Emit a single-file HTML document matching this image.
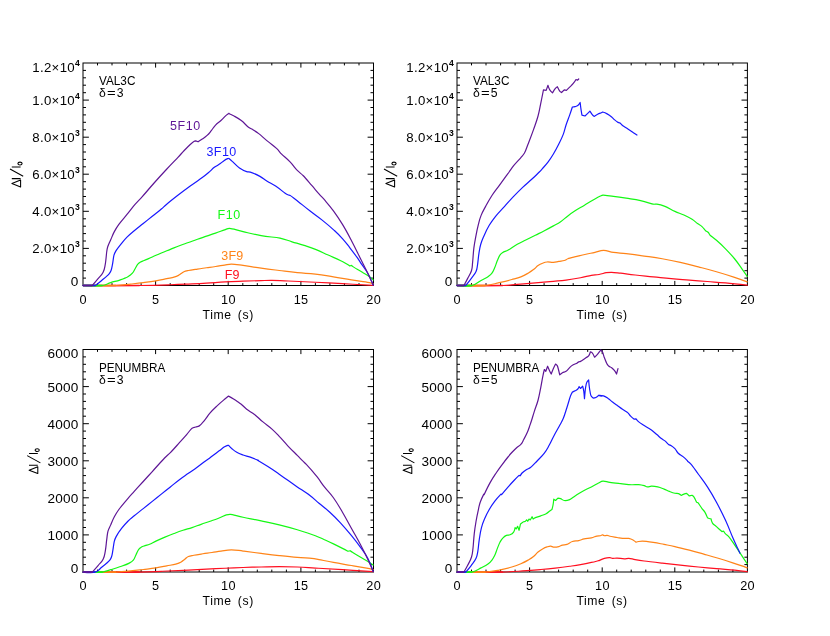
<!DOCTYPE html>
<html><head><meta charset="utf-8"><title>chart</title>
<style>
html,body{margin:0;padding:0;background:#fff;}
body{width:830px;height:636px;overflow:hidden;}
svg{display:block;will-change:transform;}
text{font-family:"Liberation Sans",sans-serif;fill:#000;}
</style></head><body>
<svg width="830" height="636" viewBox="0 0 830 636">
<rect width="830" height="636" fill="#fff"/>
<g>
<path d="M97.5 285.5v-2.4M97.5 63v2.4M112 285.5v-2.4M112 63v2.4M126.6 285.5v-2.4M126.6 63v2.4M141.1 285.5v-2.4M141.1 63v2.4M155.6 285.5v-4.6M155.6 63v4.6M170.2 285.5v-2.4M170.2 63v2.4M184.7 285.5v-2.4M184.7 63v2.4M199.2 285.5v-2.4M199.2 63v2.4M213.7 285.5v-2.4M213.7 63v2.4M228.2 285.5v-4.6M228.2 63v4.6M242.8 285.5v-2.4M242.8 63v2.4M257.3 285.5v-2.4M257.3 63v2.4M271.8 285.5v-2.4M271.8 63v2.4M286.4 285.5v-2.4M286.4 63v2.4M300.9 285.5v-4.6M300.9 63v4.6M315.4 285.5v-2.4M315.4 63v2.4M329.9 285.5v-2.4M329.9 63v2.4M344.4 285.5v-2.4M344.4 63v2.4M359 285.5v-2.4M359 63v2.4M83 278.1h3.0M373.5 278.1h-3.0M83 270.7h3.0M373.5 270.7h-3.0M83 263.2h3.0M373.5 263.2h-3.0M83 255.8h3.0M373.5 255.8h-3.0M83 248.4h5.9M373.5 248.4h-5.9M83 241h3.0M373.5 241h-3.0M83 233.6h3.0M373.5 233.6h-3.0M83 226.2h3.0M373.5 226.2h-3.0M83 218.8h3.0M373.5 218.8h-3.0M83 211.3h5.9M373.5 211.3h-5.9M83 203.9h3.0M373.5 203.9h-3.0M83 196.5h3.0M373.5 196.5h-3.0M83 189.1h3.0M373.5 189.1h-3.0M83 181.7h3.0M373.5 181.7h-3.0M83 174.2h5.9M373.5 174.2h-5.9M83 166.8h3.0M373.5 166.8h-3.0M83 159.4h3.0M373.5 159.4h-3.0M83 152h3.0M373.5 152h-3.0M83 144.6h3.0M373.5 144.6h-3.0M83 137.2h5.9M373.5 137.2h-5.9M83 129.8h3.0M373.5 129.8h-3.0M83 122.3h3.0M373.5 122.3h-3.0M83 114.9h3.0M373.5 114.9h-3.0M83 107.5h3.0M373.5 107.5h-3.0M83 100.1h5.9M373.5 100.1h-5.9M83 92.7h3.0M373.5 92.7h-3.0M83 85.2h3.0M373.5 85.2h-3.0M83 77.8h3.0M373.5 77.8h-3.0M83 70.4h3.0M373.5 70.4h-3.0" stroke="#000" stroke-width="1.0" fill="none"/>
<rect x="83" y="63" width="290.5" height="222.5" fill="none" stroke="#000" stroke-width="1.0"/>
<path d="M82.89 285.49C82.89 285.49 126.12 285.65 139.64 285.49C153.16 285.33 162.41 285.02 170.36 284.77C178.32 284.52 180.48 284.41 188.43 284.05C196.38 283.69 198.56 283.62 206.51 283.14C214.45 282.67 217.05 282.31 225 281.88C232.95 281.45 235.12 281.43 243.07 281.16C251.02 280.88 256.37 280.73 261.14 280.61C265.92 280.5 267.22 280.39 271.99 280.43C276.76 280.47 281.1 280.69 288.25 280.98C295.41 281.26 303.44 281.64 315.36 282.24C327.29 282.84 330.54 283.05 342.47 283.69C354.4 284.32 373.19 285.31 373.19 285.31" stroke="#ff0f20" stroke-width="1.2" fill="none" stroke-linejoin="round" stroke-linecap="round"/>
<path d="M82.9 285.5H139.6" stroke="#ff0f20" stroke-width="1.7" fill="none"/>
<path d="M82.89 285.49C82.89 285.49 109.76 285.81 116.14 285.49C122.53 285.18 125.03 284.65 130.6 284.05C136.17 283.45 137.7 283.32 143.25 282.6C148.81 281.89 151.11 281.62 155.9 280.8C160.7 279.97 163.57 279.26 166.75 278.63C169.93 277.99 171.92 277.79 173.98 277.18C176.03 276.57 177.23 276.04 178.49 275.37C179.76 274.71 180.01 274.36 181.2 273.57C182.4 272.77 182.61 272.36 183.92 271.76C185.22 271.16 186.42 270.94 188.43 270.49C190.45 270.05 193.5 269.64 197.47 269.05C201.44 268.45 202.53 268.34 206.51 267.78C210.48 267.23 211.57 267.11 215.54 266.52C219.51 265.92 221.61 265.51 224.58 265.07C227.54 264.64 228.33 264.21 231.33 264.17C234.32 264.13 237.92 264.77 243.07 265.43C248.23 266.1 253.2 267.03 261.14 268.14C269.09 269.26 271.27 269.5 279.22 270.49C287.16 271.49 289.35 271.87 297.29 272.66C305.23 273.46 307.44 273.2 315.36 274.11C323.29 275.02 325.49 275.55 333.43 276.82C341.37 278.09 343.57 278.62 351.51 279.89C359.45 281.16 367.96 282.24 369.58 282.6C371.2 282.97 373.19 283.69 373.19 283.69" stroke="#ff8418" stroke-width="1.2" fill="none" stroke-linejoin="round" stroke-linecap="round"/>
<path d="M82.9 285.5H116.1" stroke="#ff8418" stroke-width="1.7" fill="none"/>
<path d="M82.89 285.49C82.89 285.49 98.85 286.14 102.59 285.49C106.33 284.85 107.1 283.75 110.72 282.6C114.34 281.45 116.11 281.31 119.76 280.07C123.41 278.84 125.69 278.1 127.89 276.82C130.09 275.54 130.88 274.95 132.41 273.2C133.94 271.46 133.93 270.67 135.12 268.69C136.31 266.7 136.83 265.32 137.83 264.17C138.84 263.02 139.22 262.77 140.54 262C141.86 261.23 142.58 261.22 144.16 260.55C145.73 259.89 148.71 258.52 152.29 256.94C155.87 255.36 157.38 254.62 161.33 252.96C165.27 251.31 166.39 250.94 170.36 249.35C174.34 247.76 175.45 247.24 179.4 245.73C183.35 244.23 184.46 243.91 188.43 242.48C192.41 241.05 193.51 240.62 197.47 239.23C201.43 237.84 202.53 237.51 206.51 236.16C210.48 234.8 211.58 234.47 215.54 233.08C219.51 231.7 222.43 230.53 224.58 229.83C226.73 229.13 227.25 228.44 229.52 228.39C231.78 228.33 237.1 230.26 243.07 231.64C249.05 233.01 253.13 234.19 261.14 235.61C269.16 237.04 274.59 237.02 280 238.19C285.41 239.37 286.75 240.22 292.05 241.81C297.35 243.4 298.83 243.71 304.1 245.42C309.36 247.13 310.93 247.56 316.14 249.64C321.36 251.72 322.89 252.67 328.19 255.06C333.49 257.45 336.73 258.75 340.24 260.48C343.75 262.21 347.31 264.2 348.07 264.7C348.83 265.2 349.7 265.98 349.7 265.98L351.51 265.43C351.51 265.43 352.48 266.3 353.31 266.88C354.15 267.46 359.15 270.34 362.35 272.3C365.55 274.26 367.89 275.59 369.58 276.82C371.26 278.05 373.19 279.89 373.19 279.89" stroke="#14f814" stroke-width="1.2" fill="none" stroke-linejoin="round" stroke-linecap="round"/>
<path d="M82.9 285.5H102.6" stroke="#14f814" stroke-width="1.7" fill="none"/>
<path d="M82.89 285.49L95.36 285.49C95.36 285.49 98.95 282.72 101.69 280.43C104.42 278.15 107.73 275.53 108.92 274.11C110.11 272.69 110.39 272.21 111.08 270.49C111.78 268.77 111.99 266.97 112.53 264.17C113.07 261.37 113.42 256.97 113.98 255.13C114.53 253.29 114.81 252.81 115.78 251.16C116.76 249.5 119.28 246.25 121.57 243.39C123.85 240.52 124.41 239.67 126.99 237.06C129.57 234.46 130.98 233.45 134.22 230.73C137.46 228.02 139.28 226.69 143.25 223.51C147.23 220.33 148.31 219.46 152.29 216.28C156.27 213.1 159.15 210.9 161.33 209.05C163.5 207.2 163.97 206.55 166.14 204.7C168.32 202.85 172.95 199.12 178.19 195.06C183.43 191 185 189.82 190.24 186.02C195.48 182.23 199.57 179.62 202.29 177.59C205.01 175.56 205.73 174.97 208.31 172.77C210.9 170.57 212.34 168.85 214.34 167.35C216.33 165.84 217.09 165.75 219.16 164.34C221.22 162.92 222.45 161.72 223.98 160.72C225.51 159.72 227.34 158.78 227.59 158.67C227.84 158.57 227.92 158.53 228.19 158.49C228.47 158.45 228.98 158.49 228.98 158.49C228.98 158.49 230.81 160.06 232.23 161.33C233.64 162.59 236.53 165.94 239.46 167.95C242.39 169.97 245.15 171.07 246.69 171.57C248.22 172.06 248.76 171.71 250.3 172.17C251.85 172.63 256.59 174.55 259.94 176.39C263.29 178.22 263.92 179.2 267.17 181.2C270.42 183.21 272.04 183.67 275.6 186.02C279.17 188.38 283.54 192.15 284.82 193.01C286.1 193.88 286.82 194.4 287.83 194.82C288.84 195.24 289.26 194.95 290.24 195.42C291.22 195.9 294.65 198.76 298.07 201.45C301.49 204.13 304.88 207.03 310.12 211.08C315.36 215.14 316.99 215.98 322.17 220.12C327.35 224.26 330.36 226.8 334.22 230.36C338.07 233.92 339.25 235 342.65 238.8C346.05 242.59 346.76 243.81 349.88 247.83C353 251.86 354.9 254.35 357.11 257.47C359.32 260.59 359.79 261.53 361.93 264.7C364.07 267.86 365.53 269.26 367.77 273.2C370.02 277.15 373.19 284.95 373.19 284.95" stroke="#1818ff" stroke-width="1.2" fill="none" stroke-linejoin="round" stroke-linecap="round"/>
<path d="M82.9 285.5H95.4" stroke="#1818ff" stroke-width="1.7" fill="none"/>
<path d="M82.89 285.49L92.29 285.49C92.29 285.49 95.81 281.38 98.07 278.63C100.33 275.87 101.53 275.48 103.13 272.3C104.74 269.12 104.61 267.81 105.3 264.17C105.99 260.53 106.43 253.52 106.75 251.52C107.06 249.52 107.05 248.94 107.65 247C108.25 245.06 109.35 242.94 110.72 239.77C112.1 236.6 112.58 234.95 114.34 231.64C116.1 228.33 116.67 227.46 118.86 224.41C121.04 221.36 123.52 218.75 126.99 214.47C130.46 210.19 131.76 208.25 134.82 204.7C137.88 201.14 138.92 200.36 142.05 196.87C145.18 193.37 148.86 188.9 154.1 183.01C159.33 177.12 160.91 175.39 166.14 169.76C171.38 164.13 175.51 159.99 178.19 157.11C180.88 154.22 181.63 153.19 184.22 150.48C186.8 147.77 188.71 145.85 190.24 144.46C191.77 143.06 193.12 141.85 193.86 141.45C194.59 141.04 195.66 140.84 195.66 140.84L198.07 141.81C198.07 141.81 200.47 140.31 202.29 139.04C204.11 137.76 205.16 137.22 207.11 135.42C209.05 133.62 209.54 132.79 211.33 130.6C213.11 128.42 213.42 127.27 215.54 125.06C217.66 122.85 218.67 122.64 220.96 120.54C223.26 118.45 225.28 116.03 226.39 115.12C227.49 114.21 229.1 113.31 229.1 113.31L228.61 113.49C228.61 113.49 231.72 114.77 234.04 116.02C236.35 117.28 238.28 118.26 241.27 120.54C244.25 122.82 246.52 125.78 248.49 127.23C250.46 128.68 251.23 128.71 253.31 130C255.39 131.29 256.45 131.88 258.73 133.61C261.02 135.35 263.42 137.71 267.17 140.84C270.92 143.98 274.5 146.47 276.81 148.67C279.11 150.88 279.39 151.82 281.63 154.1C283.86 156.38 286.67 158.4 290.06 161.93C293.45 165.45 294.8 167.81 297.29 170.36C299.78 172.91 300.81 173.24 303.31 175.78C305.82 178.32 308.55 181.73 311.75 185.42C314.95 189.12 316.37 190.9 318.98 193.86C321.58 196.81 322.43 197.49 325 200.48C327.57 203.47 329.94 206.12 333.43 210.86C336.92 215.59 338.74 218.29 342.47 224.41C346.2 230.53 347.69 233.43 351.51 240.67C355.33 247.92 357.36 252.39 360.54 258.75C363.72 265.11 365.31 268.07 367.77 273.2C370.24 278.34 373.19 284.95 373.19 284.95" stroke="#5e1696" stroke-width="1.2" fill="none" stroke-linejoin="round" stroke-linecap="round"/>
<path d="M82.9 285.5H92.3" stroke="#5e1696" stroke-width="1.7" fill="none"/>
<text x="83.2" y="303.8" font-size="12.7" text-anchor="middle" letter-spacing="0.3">0</text>
<text x="155.8" y="303.8" font-size="12.7" text-anchor="middle" letter-spacing="0.3">5</text>
<text x="228.4" y="303.8" font-size="12.7" text-anchor="middle" letter-spacing="0.3">10</text>
<text x="301.1" y="303.8" font-size="12.7" text-anchor="middle" letter-spacing="0.3">15</text>
<text x="373.7" y="303.8" font-size="12.7" text-anchor="middle" letter-spacing="0.3">20</text>
<text x="228.2" y="318.5" font-size="12.2" text-anchor="middle" letter-spacing="0.6" word-spacing="2.2">Time (s)</text>
<text transform="translate(78.6 286.2) scale(1.07 1)" font-size="12.7" text-anchor="end" letter-spacing="0.2">0</text>
<text transform="translate(80.1 253.4) scale(1.05 1)" font-size="12.6" text-anchor="end" letter-spacing="0.3">2.0×10<tspan font-size="8.2" dy="-6.0" font-weight="bold">3</tspan></text>
<text transform="translate(80.1 216.3) scale(1.05 1)" font-size="12.6" text-anchor="end" letter-spacing="0.3">4.0×10<tspan font-size="8.2" dy="-6.0" font-weight="bold">3</tspan></text>
<text transform="translate(80.1 179.2) scale(1.05 1)" font-size="12.6" text-anchor="end" letter-spacing="0.3">6.0×10<tspan font-size="8.2" dy="-6.0" font-weight="bold">3</tspan></text>
<text transform="translate(80.1 142.2) scale(1.05 1)" font-size="12.6" text-anchor="end" letter-spacing="0.3">8.0×10<tspan font-size="8.2" dy="-6.0" font-weight="bold">3</tspan></text>
<text transform="translate(80.1 105.1) scale(1.05 1)" font-size="12.6" text-anchor="end" letter-spacing="0.3">1.0×10<tspan font-size="8.2" dy="-6.0" font-weight="bold">4</tspan></text>
<text transform="translate(80.1 71.7) scale(1.05 1)" font-size="12.6" text-anchor="end" letter-spacing="0.3">1.2×10<tspan font-size="8.2" dy="-6.0" font-weight="bold">4</tspan></text>
<g transform="translate(20.6 174.2)" fill="none" stroke="#000" stroke-width="1.05" stroke-linejoin="round"><path d="M0 5.9V12.8L-8.7 9.35ZM0 4.4H-8.8M2.6 2.1L-10.6 -5.15M0 -7.3H-8.8"/><ellipse cx="-0.6" cy="-10.7" rx="2.1" ry="1.4"/></g>
<text x="99" y="85.3" font-size="12.2" textLength="36.4" lengthAdjust="spacingAndGlyphs">VAL3C</text>
<text x="99.1" y="97" font-size="12.2">δ</text>
<text transform="translate(106.9 97) scale(1.22 1)" font-size="12.2">=</text>
<text x="116.8" y="97" font-size="12.2">3</text>
<text x="170" y="129.9" font-size="12.5" letter-spacing="0.6" style="fill:#5e1696">5F10</text>
<text x="206.5" y="156" font-size="12.5" letter-spacing="0.4" style="fill:#1818ff">3F10</text>
<text x="217.6" y="218.6" font-size="12.5" letter-spacing="0.5" style="fill:#14f814">F10</text>
<text x="221.3" y="260" font-size="12.5" letter-spacing="0.2" style="fill:#ff8418">3F9</text>
<text x="224.8" y="278.6" font-size="12.5" letter-spacing="0.1" style="fill:#ff0f20">F9</text>
</g>
<g>
<path d="M471.5 285.5v-2.4M471.5 63v2.4M486 285.5v-2.4M486 63v2.4M500.6 285.5v-2.4M500.6 63v2.4M515.1 285.5v-2.4M515.1 63v2.4M529.6 285.5v-4.6M529.6 63v4.6M544.1 285.5v-2.4M544.1 63v2.4M558.6 285.5v-2.4M558.6 63v2.4M573.2 285.5v-2.4M573.2 63v2.4M587.7 285.5v-2.4M587.7 63v2.4M602.2 285.5v-4.6M602.2 63v4.6M616.7 285.5v-2.4M616.7 63v2.4M631.2 285.5v-2.4M631.2 63v2.4M645.8 285.5v-2.4M645.8 63v2.4M660.3 285.5v-2.4M660.3 63v2.4M674.8 285.5v-4.6M674.8 63v4.6M689.3 285.5v-2.4M689.3 63v2.4M703.8 285.5v-2.4M703.8 63v2.4M718.4 285.5v-2.4M718.4 63v2.4M732.9 285.5v-2.4M732.9 63v2.4M457 278.1h3.0M747.4 278.1h-3.0M457 270.7h3.0M747.4 270.7h-3.0M457 263.2h3.0M747.4 263.2h-3.0M457 255.8h3.0M747.4 255.8h-3.0M457 248.4h5.9M747.4 248.4h-5.9M457 241h3.0M747.4 241h-3.0M457 233.6h3.0M747.4 233.6h-3.0M457 226.2h3.0M747.4 226.2h-3.0M457 218.8h3.0M747.4 218.8h-3.0M457 211.3h5.9M747.4 211.3h-5.9M457 203.9h3.0M747.4 203.9h-3.0M457 196.5h3.0M747.4 196.5h-3.0M457 189.1h3.0M747.4 189.1h-3.0M457 181.7h3.0M747.4 181.7h-3.0M457 174.2h5.9M747.4 174.2h-5.9M457 166.8h3.0M747.4 166.8h-3.0M457 159.4h3.0M747.4 159.4h-3.0M457 152h3.0M747.4 152h-3.0M457 144.6h3.0M747.4 144.6h-3.0M457 137.2h5.9M747.4 137.2h-5.9M457 129.8h3.0M747.4 129.8h-3.0M457 122.3h3.0M747.4 122.3h-3.0M457 114.9h3.0M747.4 114.9h-3.0M457 107.5h3.0M747.4 107.5h-3.0M457 100.1h5.9M747.4 100.1h-5.9M457 92.7h3.0M747.4 92.7h-3.0M457 85.2h3.0M747.4 85.2h-3.0M457 77.8h3.0M747.4 77.8h-3.0M457 70.4h3.0M747.4 70.4h-3.0" stroke="#000" stroke-width="1.0" fill="none"/>
<rect x="457" y="63" width="290.4" height="222.5" fill="none" stroke="#000" stroke-width="1.0"/>
<path d="M456.89 285.49C456.89 285.49 496.42 285.73 502.8 285.49C509.17 285.26 510.89 284.9 517.25 284.41C523.61 283.92 527.38 283.64 535.33 282.96C543.27 282.29 547.83 281.87 553.4 281.34C558.97 280.81 560.5 280.8 566.05 280.07C571.59 279.35 575.71 278.63 580.51 277.72C585.3 276.81 588.01 275.93 591.35 275.37C594.69 274.82 595.78 275.06 599 274.47C602.22 273.88 603.87 273.03 606.23 272.66C608.59 272.29 609.26 272.26 611.65 272.3C614.04 272.34 616.72 272.76 620.69 273.2C624.66 273.65 628.77 274.3 635.14 275.01C641.52 275.73 645.27 276.02 653.22 276.82C661.17 277.61 663.34 277.91 671.29 278.63C679.23 279.34 681.41 279.44 689.36 280.07C697.31 280.71 699.48 280.88 707.43 281.52C715.39 282.15 717.56 282.25 725.51 282.96C733.45 283.68 747.19 285.13 747.19 285.13" stroke="#ff0f20" stroke-width="1.2" fill="none" stroke-linejoin="round" stroke-linecap="round"/>
<path d="M456.9 285.5H502.8" stroke="#ff0f20" stroke-width="1.7" fill="none"/>
<path d="M456.89 285.49C456.89 285.49 479.56 286.13 485.63 285.49C491.69 284.85 493.6 283.88 499.18 282.6C504.77 281.33 507.83 280.62 511.83 279.53C515.84 278.44 517.56 278.13 520.87 276.82C524.17 275.51 525.62 274.64 528.1 273.2C530.58 271.77 531.42 271.2 533.52 269.59C535.62 267.98 536.19 266.88 538.04 265.61C539.88 264.35 540.63 264.02 542.55 263.27C544.47 262.51 545.02 262.22 547.07 262C549.12 261.78 550.98 262.49 553.4 262.36C555.81 262.23 556.43 261.86 558.82 261.46C561.2 261.06 562.55 261.1 564.24 260.55C565.93 260 566.19 259.37 567.86 258.75C569.52 258.12 572.92 257.39 576.89 256.4C580.86 255.41 581.97 255.1 585.93 254.23C589.89 253.36 591.19 253.24 594.96 252.42C598.74 251.61 599.65 250.49 603.52 250.43C607.38 250.37 609.05 251.76 613.46 252.42C617.87 253.08 620.55 253.05 626.11 253.69C631.67 254.33 636.24 254.92 644.18 256.04C652.12 257.15 654.33 257.36 662.25 258.75C670.17 260.13 672.41 260.58 680.33 262.36C688.24 264.14 690.46 264.82 698.4 266.88C706.33 268.94 708.56 269.47 716.47 271.76C724.38 274.05 728.93 275.49 734.54 277.36C740.15 279.23 747.19 281.88 747.19 281.88" stroke="#ff8418" stroke-width="1.2" fill="none" stroke-linejoin="round" stroke-linecap="round"/>
<path d="M456.9 285.5H485.6" stroke="#ff8418" stroke-width="1.7" fill="none"/>
<path d="M456.89 285.49C456.89 285.49 467.66 286.64 472.07 285.49C476.48 284.34 477.93 282.2 481.11 280.43C484.28 278.67 486.59 277.7 488.34 276.46C490.08 275.22 490.66 274.91 491.95 273.2C493.25 271.5 493.6 270.23 494.66 267.78C495.73 265.34 496.28 263.14 497.37 260.55C498.46 257.96 499.13 256.03 500.08 254.77C501.04 253.51 501.46 253.26 502.8 252.42C504.13 251.58 505.92 251.29 508.22 250.07C510.51 248.85 513.39 246.48 517.25 244.29C521.12 242.09 522.31 241.76 526.29 239.77C530.27 237.78 531.35 237.24 535.33 235.25C539.3 233.27 540.42 232.79 544.36 230.73C548.31 228.68 550.19 227.64 553.4 225.86C556.6 224.07 557.59 223.77 560.63 221.7C563.66 219.63 564.75 218.24 567.86 215.92C570.96 213.59 571.83 212.97 575.08 210.86C578.34 208.74 580.14 207.82 584.12 205.43C588.1 203.05 590.01 201.82 593.16 200.01C596.3 198.2 599.28 196.53 600.39 196.04C601.49 195.54 601.78 195.26 602.98 195.13C604.18 195 608.85 195.79 613.46 196.4C618.06 197 620.55 197.36 626.11 198.2C631.67 199.05 634.92 199.29 640.57 200.55C646.22 201.82 651.64 203.95 653.22 204.17C654.79 204.39 655.25 203.96 656.83 204.17C658.41 204.38 661.51 205.01 664.96 206.34C668.42 207.66 671 209.63 674.9 211.4C678.8 213.17 680.26 213.3 683.94 215.01C687.62 216.72 689.54 217.72 692.07 219.35C694.6 220.98 695.55 222.1 697.49 223.51C699.44 224.91 700.21 224.98 702.01 226.58C703.81 228.17 704.55 229.79 705.63 230.73C706.7 231.68 707.32 231.53 708.34 232.54C709.35 233.56 709.18 234.2 710.14 235.25C711.11 236.31 713.78 237.98 716.47 240.31C719.16 242.65 721.68 244.92 725.51 248.81C729.33 252.7 731.13 254.55 734.54 258.75C737.96 262.94 739.35 265.29 741.77 268.69C744.19 272.08 747.19 276.46 747.19 276.46" stroke="#14f814" stroke-width="1.2" fill="none" stroke-linejoin="round" stroke-linecap="round"/>
<path d="M456.9 285.5H472.1" stroke="#14f814" stroke-width="1.7" fill="none"/>
<path d="M456.89 285.49L465.75 285.49C465.75 285.49 468.9 281.73 471.17 278.63C473.43 275.53 474.91 274.02 476.05 271.4C477.18 268.78 477 267.88 477.49 265.07C477.99 262.26 478.29 257.33 478.94 253.33C479.59 249.32 479.69 247.97 480.75 244.29C481.8 240.61 482.29 239.66 483.82 236.16C485.35 232.65 486.76 229.48 489.24 225.31C491.72 221.14 492.54 220.07 495.57 216.28C498.6 212.49 500.63 210.71 504.6 206.34C508.58 201.96 509.76 200.47 513.64 196.4C517.52 192.33 518.79 191.04 522.67 187.36C526.56 183.68 528.33 182.36 531.71 179.23C535.1 176.1 537.82 173.52 539.3 172C540.79 170.48 541.15 170.02 542.55 168.43C543.96 166.84 545.76 165.03 547.98 162.11C550.19 159.19 551.17 157.66 553.4 153.98C555.62 150.3 556.67 148.33 558.82 144.04C560.96 139.74 561.88 137.98 563.34 134.1C564.8 130.21 564.74 129 566.05 125.06C567.35 121.12 568.42 118.68 569.66 115.12C570.9 111.56 572.37 106.99 572.37 106.99C572.37 106.99 573.92 106.93 575.08 106.63C576.25 106.32 576.77 106.32 577.8 105.54C578.82 104.77 580.14 102.47 580.14 102.47C580.14 102.47 580.7 107.31 581.05 109.7C581.4 112.09 581.95 115.12 581.95 115.12L585.02 116.02C585.02 116.02 586.78 114.27 587.73 113.31C588.69 112.36 589.9 111.14 589.9 111.14C589.9 111.14 591.53 113.71 592.25 114.58C592.97 115.44 594.06 116.39 594.06 116.39C594.06 116.39 596.14 114.98 597.67 114.22C599.21 113.46 600.69 113.05 601.29 112.77C601.89 112.49 602.61 112.05 602.61 112.05C602.61 112.05 605.24 112.85 607.13 113.86C609.02 114.86 610.35 115.85 611.65 116.93C612.95 118 613.09 118.53 614.36 119.64C615.64 120.74 617.23 121.98 617.98 122.35C618.72 122.72 619.06 122.48 619.78 122.89C620.5 123.3 621.21 124.41 622.49 125.42C623.77 126.43 625.53 127.45 627.92 129.04C630.3 130.63 631.75 131.61 633.34 132.65C634.92 133.69 636.95 135 636.95 135" stroke="#1818ff" stroke-width="1.2" fill="none" stroke-linejoin="round" stroke-linecap="round"/>
<path d="M456.9 285.5H465.7" stroke="#1818ff" stroke-width="1.7" fill="none"/>
<path d="M456.89 285.49L463.94 285.49C463.94 285.49 466.01 281.67 467.55 278.63C469.1 275.58 470.49 273.95 471.53 270.49C472.57 267.04 472.22 265.95 472.61 262.36C473.01 258.77 473.27 252.7 473.88 247.9C474.49 243.11 474.78 241.81 475.69 237.06C476.59 232.31 477.37 228.43 478.4 224.41C479.43 220.39 479.58 219.23 481.11 215.37C482.64 211.51 483.51 210.25 485.63 206.34C487.74 202.43 489 200.02 491.95 195.49C494.91 190.97 496 189.93 499.18 185.55C502.36 181.18 505.23 177.21 506.41 175.61C507.59 174.02 507.94 173.6 509.12 172C510.3 170.4 511.51 168.38 513.64 165.72C515.77 163.07 519.23 159.54 520.87 157.59C522.51 155.64 523.2 155.27 524.48 153.07C525.76 150.87 526.55 148.03 528.1 144.04C529.64 140.04 531.42 135.5 533.52 129.58C535.62 123.65 536.54 121.52 538.04 116.02C539.53 110.53 539.59 108.95 540.75 103.37C541.9 97.8 543.46 89.82 543.46 89.82L546.17 90.36L547.98 85.3C547.98 85.3 548.84 88.28 549.78 89.82C550.73 91.35 552.49 92.89 552.49 92.89C552.49 92.89 554.39 89.49 555.2 88.55C556.02 87.62 557.37 86.75 557.37 86.75C557.37 86.75 559.07 90.3 559.72 91.08C560.38 91.87 561.53 92.53 561.53 92.53L564.24 89.82L566.41 90.36C566.41 90.36 568.23 88.54 569.66 87.11C571.09 85.68 571.93 85.12 573.28 83.49C574.63 81.86 575.99 79.52 575.99 79.52L577.43 80.24L578.7 78.98" stroke="#5e1696" stroke-width="1.2" fill="none" stroke-linejoin="round" stroke-linecap="round"/>
<path d="M456.9 285.5H463.9" stroke="#5e1696" stroke-width="1.7" fill="none"/>
<text x="457.2" y="303.8" font-size="12.7" text-anchor="middle" letter-spacing="0.3">0</text>
<text x="529.8" y="303.8" font-size="12.7" text-anchor="middle" letter-spacing="0.3">5</text>
<text x="602.4" y="303.8" font-size="12.7" text-anchor="middle" letter-spacing="0.3">10</text>
<text x="675" y="303.8" font-size="12.7" text-anchor="middle" letter-spacing="0.3">15</text>
<text x="747.6" y="303.8" font-size="12.7" text-anchor="middle" letter-spacing="0.3">20</text>
<text x="602.1" y="318.5" font-size="12.2" text-anchor="middle" letter-spacing="0.6" word-spacing="2.2">Time (s)</text>
<text transform="translate(452.6 286.2) scale(1.07 1)" font-size="12.7" text-anchor="end" letter-spacing="0.2">0</text>
<text transform="translate(454.1 253.4) scale(1.05 1)" font-size="12.6" text-anchor="end" letter-spacing="0.3">2.0×10<tspan font-size="8.2" dy="-6.0" font-weight="bold">3</tspan></text>
<text transform="translate(454.1 216.3) scale(1.05 1)" font-size="12.6" text-anchor="end" letter-spacing="0.3">4.0×10<tspan font-size="8.2" dy="-6.0" font-weight="bold">3</tspan></text>
<text transform="translate(454.1 179.2) scale(1.05 1)" font-size="12.6" text-anchor="end" letter-spacing="0.3">6.0×10<tspan font-size="8.2" dy="-6.0" font-weight="bold">3</tspan></text>
<text transform="translate(454.1 142.2) scale(1.05 1)" font-size="12.6" text-anchor="end" letter-spacing="0.3">8.0×10<tspan font-size="8.2" dy="-6.0" font-weight="bold">3</tspan></text>
<text transform="translate(454.1 105.1) scale(1.05 1)" font-size="12.6" text-anchor="end" letter-spacing="0.3">1.0×10<tspan font-size="8.2" dy="-6.0" font-weight="bold">4</tspan></text>
<text transform="translate(454.1 71.7) scale(1.05 1)" font-size="12.6" text-anchor="end" letter-spacing="0.3">1.2×10<tspan font-size="8.2" dy="-6.0" font-weight="bold">4</tspan></text>
<g transform="translate(394.6 174.2)" fill="none" stroke="#000" stroke-width="1.05" stroke-linejoin="round"><path d="M0 5.9V12.8L-8.7 9.35ZM0 4.4H-8.8M2.6 2.1L-10.6 -5.15M0 -7.3H-8.8"/><ellipse cx="-0.6" cy="-10.7" rx="2.1" ry="1.4"/></g>
<text x="473" y="85.3" font-size="12.2" textLength="36.4" lengthAdjust="spacingAndGlyphs">VAL3C</text>
<text x="473.1" y="97" font-size="12.2">δ</text>
<text transform="translate(480.9 97) scale(1.22 1)" font-size="12.2">=</text>
<text x="490.8" y="97" font-size="12.2">5</text>
</g>
<g>
<path d="M97.5 572v-2.4M97.5 349.5v2.4M112 572v-2.4M112 349.5v2.4M126.6 572v-2.4M126.6 349.5v2.4M141.1 572v-2.4M141.1 349.5v2.4M155.6 572v-4.6M155.6 349.5v4.6M170.2 572v-2.4M170.2 349.5v2.4M184.7 572v-2.4M184.7 349.5v2.4M199.2 572v-2.4M199.2 349.5v2.4M213.7 572v-2.4M213.7 349.5v2.4M228.2 572v-4.6M228.2 349.5v4.6M242.8 572v-2.4M242.8 349.5v2.4M257.3 572v-2.4M257.3 349.5v2.4M271.8 572v-2.4M271.8 349.5v2.4M286.4 572v-2.4M286.4 349.5v2.4M300.9 572v-4.6M300.9 349.5v4.6M315.4 572v-2.4M315.4 349.5v2.4M329.9 572v-2.4M329.9 349.5v2.4M344.4 572v-2.4M344.4 349.5v2.4M359 572v-2.4M359 349.5v2.4M83 564.6h3.0M373.5 564.6h-3.0M83 557.2h3.0M373.5 557.2h-3.0M83 549.8h3.0M373.5 549.8h-3.0M83 542.3h3.0M373.5 542.3h-3.0M83 534.9h5.9M373.5 534.9h-5.9M83 527.5h3.0M373.5 527.5h-3.0M83 520.1h3.0M373.5 520.1h-3.0M83 512.7h3.0M373.5 512.7h-3.0M83 505.2h3.0M373.5 505.2h-3.0M83 497.8h5.9M373.5 497.8h-5.9M83 490.4h3.0M373.5 490.4h-3.0M83 483h3.0M373.5 483h-3.0M83 475.6h3.0M373.5 475.6h-3.0M83 468.2h3.0M373.5 468.2h-3.0M83 460.8h5.9M373.5 460.8h-5.9M83 453.3h3.0M373.5 453.3h-3.0M83 445.9h3.0M373.5 445.9h-3.0M83 438.5h3.0M373.5 438.5h-3.0M83 431.1h3.0M373.5 431.1h-3.0M83 423.7h5.9M373.5 423.7h-5.9M83 416.2h3.0M373.5 416.2h-3.0M83 408.8h3.0M373.5 408.8h-3.0M83 401.4h3.0M373.5 401.4h-3.0M83 394h3.0M373.5 394h-3.0M83 386.6h5.9M373.5 386.6h-5.9M83 379.2h3.0M373.5 379.2h-3.0M83 371.8h3.0M373.5 371.8h-3.0M83 364.3h3.0M373.5 364.3h-3.0M83 356.9h3.0M373.5 356.9h-3.0" stroke="#000" stroke-width="1.0" fill="none"/>
<rect x="83" y="349.5" width="290.5" height="222.5" fill="none" stroke="#000" stroke-width="1.0"/>
<path d="M82.89 572.04C82.89 572.04 130.09 572.2 139.64 572.04C149.18 571.88 151.79 571.69 161.33 571.31C170.87 570.93 180.48 570.43 188.43 570.05C196.39 569.66 198.55 569.54 206.51 569.14C214.46 568.75 217.05 568.59 225 568.24C232.95 567.89 235.12 567.8 243.07 567.52C251.02 567.24 253.19 567.17 261.14 566.98C269.1 566.78 271.26 566.61 279.22 566.61C287.17 566.61 289.34 566.66 297.29 566.98C305.24 567.29 307.41 567.58 315.36 568.06C323.31 568.54 330.54 568.94 342.47 569.69C354.4 570.43 373.19 571.67 373.19 571.67" stroke="#ff0f20" stroke-width="1.2" fill="none" stroke-linejoin="round" stroke-linecap="round"/>
<path d="M82.9 572H139.6" stroke="#ff0f20" stroke-width="1.7" fill="none"/>
<path d="M82.89 572.04C82.89 572.04 109.77 572.27 116.14 572.04C122.52 571.8 125.02 571.48 130.6 570.95C136.18 570.42 137.69 570.18 143.25 569.51C148.81 568.83 151.11 568.63 155.9 567.88C160.7 567.13 162.76 566.65 166.75 565.89C170.73 565.13 173.32 564.82 175.78 564.08C178.25 563.35 179.47 562.89 181.2 561.92C182.94 560.94 183.23 560.4 184.82 559.2C186.41 558.01 186.63 557.33 188.43 556.49C190.24 555.65 191.45 555.7 193.86 555.23C196.26 554.76 198.92 554.38 202.89 553.78C206.86 553.19 207.96 553.11 211.93 552.52C215.9 551.92 216.98 551.63 220.96 551.07C224.95 550.51 226.73 549.84 231.33 549.81C235.92 549.77 237.91 550.46 243.07 551.07C248.23 551.69 253.2 552.43 261.14 553.42C269.09 554.42 271.27 554.72 279.22 555.59C287.16 556.46 290.94 556.88 297.29 557.4C303.64 557.91 308.54 557.92 311.75 558.3C314.95 558.68 315.8 558.97 318.98 559.57C322.15 560.16 327.05 561.28 333.43 562.46C339.81 563.64 343.55 564.18 351.51 565.53C359.46 566.88 367.97 568.27 369.58 568.6C371.18 568.94 373.19 569.51 373.19 569.51" stroke="#ff8418" stroke-width="1.2" fill="none" stroke-linejoin="round" stroke-linecap="round"/>
<path d="M82.9 572H116.1" stroke="#ff8418" stroke-width="1.7" fill="none"/>
<path d="M82.89 572.04C82.89 572.04 98.9 572.56 102.59 572.04C106.28 571.51 107.16 570.77 110.72 569.69C114.29 568.6 115.82 568.17 119.76 566.8C123.7 565.42 126.64 564.52 128.8 563.36C130.95 562.2 131.73 561.97 133.31 560.11C134.9 558.24 134.83 557.07 136.02 554.69C137.22 552.3 137.77 550.45 138.73 549.27C139.7 548.08 140.13 547.87 141.45 547.1C142.77 546.33 143.45 546.23 145.06 545.65C146.67 545.07 147.64 544.98 149.58 544.2C151.52 543.43 153.1 542.43 155.9 541.13C158.71 539.83 160.99 538.81 164.94 537.16C168.89 535.5 170.03 535.04 173.98 533.54C177.93 532.04 179.07 531.59 183.01 530.29C186.95 528.99 188.11 528.88 192.05 527.58C195.99 526.28 197.12 525.71 201.08 524.33C205.05 522.94 206.16 522.64 210.12 521.25C214.08 519.87 215.94 519.26 219.16 518C222.37 516.74 224.66 515.4 226.39 514.93C228.11 514.45 228.63 514.3 230.42 514.39C232.21 514.47 237.49 516.08 243.07 517.28C248.66 518.47 253.21 519.23 261.14 520.89C269.08 522.56 271.31 522.93 279.22 524.87C287.13 526.8 289.4 527.38 297.29 529.75C305.18 532.11 311.31 534.15 315.36 535.71C319.42 537.27 320.44 537.9 324.4 539.69C328.36 541.47 329.49 541.95 333.43 543.84C337.38 545.74 340.07 547.12 342.47 548.36C344.87 549.6 347.89 551.25 347.89 551.25L350.24 550.71C350.24 550.71 351.42 551.67 352.41 552.34C353.4 553 359.19 556.44 362.35 558.3C365.51 560.16 367.94 561.42 369.58 562.46C371.22 563.5 373.19 564.99 373.19 564.99" stroke="#14f814" stroke-width="1.2" fill="none" stroke-linejoin="round" stroke-linecap="round"/>
<path d="M82.9 572H102.6" stroke="#14f814" stroke-width="1.7" fill="none"/>
<path d="M82.89 572.04C82.89 572.04 92.07 573.12 95.36 572.04C98.65 570.95 99 569.52 101.69 567.34C104.38 565.15 108.74 561.52 109.82 560.11C110.9 558.7 111.05 558.18 111.63 556.49C112.2 554.81 112.39 552.96 112.89 550.17C113.39 547.38 113.77 543.2 114.34 541.13C114.91 539.07 115.15 538.51 116.14 536.61C117.14 534.72 119 531.84 121.57 528.48C124.14 525.13 125.29 523.83 127.89 521.25C130.5 518.67 131.39 518.17 134.22 515.83C137.04 513.49 139.28 511.78 143.25 508.6C147.23 505.42 148.31 504.55 152.29 501.37C156.27 498.19 157.35 497.33 161.33 494.14C165.3 490.96 166.39 490.1 170.36 486.92C174.34 483.73 175.51 482.6 179.4 479.69C183.28 476.78 184.46 476.14 188.43 473.36C192.41 470.58 193.55 469.9 197.47 467.04C201.39 464.18 205.1 461.17 206.51 460.17C207.91 459.17 208.77 458.73 209.76 458C210.75 457.27 210.96 457 211.93 456.24C212.9 455.49 216.78 452.58 219.16 450.82C221.53 449.06 223.22 447.63 224.58 446.84C225.93 446.06 227.49 445.47 227.83 445.4C228.17 445.33 228.61 445.4 228.61 445.4C228.61 445.4 230.52 447.56 232.23 449.01C233.94 450.47 234.61 451.06 236.75 452.27C238.88 453.47 240.23 453.94 243.07 454.98C245.92 456.01 247.17 456.05 250.3 457.14C253.44 458.24 258.43 460.4 258.43 460.4L257.53 460.17C257.53 460.17 266.12 465.28 270.18 467.94C274.24 470.6 275.24 471.48 279.22 474.27C283.19 477.05 284.28 477.81 288.25 480.59C292.23 483.37 293.3 484.15 297.29 486.92C301.28 489.68 305.81 492.45 309.94 495.59C314.07 498.73 314.99 499.85 318.98 503.18C322.96 506.51 325.23 508.03 329.82 512.22C334.41 516.4 336.08 518.11 340.66 523.06C345.25 528.01 347.39 530.65 351.51 535.71C355.62 540.77 357.2 542.8 360.54 547.46C363.88 552.12 365.08 553.24 367.77 558.3C370.46 563.36 373.19 571.49 373.19 571.49" stroke="#1818ff" stroke-width="1.2" fill="none" stroke-linejoin="round" stroke-linecap="round"/>
<path d="M82.9 572H95.4" stroke="#1818ff" stroke-width="1.7" fill="none"/>
<path d="M82.89 572.04L92.29 572.04C92.29 572.04 95.77 568.25 98.07 565.53C100.37 562.81 101.53 562.39 103.13 559.2C104.74 556.02 104.6 554.71 105.3 551.07C106.01 547.44 106.25 542.91 106.75 539.33C107.25 535.74 107.18 534.1 108.01 531.19C108.85 528.28 109.51 527.64 110.72 524.87C111.93 522.09 112.58 520.05 114.34 516.73C116.1 513.42 116.67 512.55 118.86 509.51C121.04 506.46 123.88 503.21 126.99 499.57C130.09 495.92 131.02 494.99 134.22 491.43C137.42 487.87 139.28 485.87 143.25 481.49C147.23 477.12 148.32 475.93 152.29 471.55C156.26 467.18 162.14 460.47 164.58 458C167.02 455.53 167.92 455.1 170.36 452.63C172.8 450.16 176.2 446.25 179.4 442.69C182.6 439.13 184.22 437.32 186.63 434.55C189.04 431.79 190.66 429.18 192.05 428.23C193.44 427.28 194.08 427.48 195.66 426.96C197.24 426.45 197.87 426.75 199.28 425.88C200.69 425.01 202.46 422.77 204.7 420.1C206.94 417.42 207.52 415.87 210.12 412.87C212.73 409.86 214.26 408.53 217.35 405.64C220.44 402.75 222.85 400.77 224.58 399.31C226.3 397.85 228.55 396.06 228.55 396.06C228.55 396.06 228.59 396.05 228.61 396.06C228.64 396.07 231.16 397.55 233.13 398.77C235.1 399.99 236.04 400.58 237.65 401.66C239.26 402.74 239.76 402.97 241.27 404.19C242.77 405.41 244.13 407.23 246.69 409.25C249.25 411.28 251.41 412.05 254.82 414.67C258.22 417.3 259.29 418.82 262.95 421.9C266.61 424.99 268.64 426.13 271.99 429.13C275.34 432.13 276.11 433.11 279.22 436.36C282.32 439.62 284.37 442.23 288.25 446.3C292.13 450.37 294.88 452.89 297.29 455.34C299.69 457.78 301.16 459.41 302.71 460.94C304.26 462.47 304.82 462.75 306.33 464.33C307.83 465.9 313.82 472.73 317.17 476.98C320.52 481.22 321.07 482.65 324.4 486.92C327.72 491.18 329.79 492.73 333.43 497.76C337.08 502.79 338.66 505.76 342.47 512.22C346.28 518.68 347.53 521.33 351.51 528.48C355.48 535.64 357.22 538.46 360.54 544.75C363.86 551.04 365.26 553.86 367.77 559.2C370.29 564.55 373.19 571.49 373.19 571.49" stroke="#5e1696" stroke-width="1.2" fill="none" stroke-linejoin="round" stroke-linecap="round"/>
<path d="M82.9 572H92.3" stroke="#5e1696" stroke-width="1.7" fill="none"/>
<text x="83.2" y="590.3" font-size="12.7" text-anchor="middle" letter-spacing="0.3">0</text>
<text x="155.8" y="590.3" font-size="12.7" text-anchor="middle" letter-spacing="0.3">5</text>
<text x="228.4" y="590.3" font-size="12.7" text-anchor="middle" letter-spacing="0.3">10</text>
<text x="301.1" y="590.3" font-size="12.7" text-anchor="middle" letter-spacing="0.3">15</text>
<text x="373.7" y="590.3" font-size="12.7" text-anchor="middle" letter-spacing="0.3">20</text>
<text x="228.2" y="605" font-size="12.2" text-anchor="middle" letter-spacing="0.6" word-spacing="2.2">Time (s)</text>
<text transform="translate(78.6 572.7) scale(1.07 1)" font-size="12.7" text-anchor="end" letter-spacing="0.2">0</text>
<text transform="translate(78.6 539.9) scale(1.07 1)" font-size="12.7" text-anchor="end" letter-spacing="0.2">1000</text>
<text transform="translate(78.6 502.8) scale(1.07 1)" font-size="12.7" text-anchor="end" letter-spacing="0.2">2000</text>
<text transform="translate(78.6 465.8) scale(1.07 1)" font-size="12.7" text-anchor="end" letter-spacing="0.2">3000</text>
<text transform="translate(78.6 428.7) scale(1.07 1)" font-size="12.7" text-anchor="end" letter-spacing="0.2">4000</text>
<text transform="translate(78.6 391.6) scale(1.07 1)" font-size="12.7" text-anchor="end" letter-spacing="0.2">5000</text>
<text transform="translate(78.6 358.2) scale(1.07 1)" font-size="12.7" text-anchor="end" letter-spacing="0.2">6000</text>
<g transform="translate(37.8 460.8)" fill="none" stroke="#000" stroke-width="1.05" stroke-linejoin="round"><path d="M0 5.9V12.8L-8.7 9.35ZM0 4.4H-8.8M2.6 2.1L-10.6 -5.15M0 -7.3H-8.8"/><ellipse cx="-0.6" cy="-10.7" rx="2.1" ry="1.4"/></g>
<text x="99" y="371.8" font-size="12.2" textLength="66.3" lengthAdjust="spacingAndGlyphs">PENUMBRA</text>
<text x="99.1" y="383.5" font-size="12.2">δ</text>
<text transform="translate(106.9 383.5) scale(1.22 1)" font-size="12.2">=</text>
<text x="116.8" y="383.5" font-size="12.2">3</text>
</g>
<g>
<path d="M471.5 572v-2.4M471.5 349.5v2.4M486 572v-2.4M486 349.5v2.4M500.6 572v-2.4M500.6 349.5v2.4M515.1 572v-2.4M515.1 349.5v2.4M529.6 572v-4.6M529.6 349.5v4.6M544.1 572v-2.4M544.1 349.5v2.4M558.6 572v-2.4M558.6 349.5v2.4M573.2 572v-2.4M573.2 349.5v2.4M587.7 572v-2.4M587.7 349.5v2.4M602.2 572v-4.6M602.2 349.5v4.6M616.7 572v-2.4M616.7 349.5v2.4M631.2 572v-2.4M631.2 349.5v2.4M645.8 572v-2.4M645.8 349.5v2.4M660.3 572v-2.4M660.3 349.5v2.4M674.8 572v-4.6M674.8 349.5v4.6M689.3 572v-2.4M689.3 349.5v2.4M703.8 572v-2.4M703.8 349.5v2.4M718.4 572v-2.4M718.4 349.5v2.4M732.9 572v-2.4M732.9 349.5v2.4M457 564.6h3.0M747.4 564.6h-3.0M457 557.2h3.0M747.4 557.2h-3.0M457 549.8h3.0M747.4 549.8h-3.0M457 542.3h3.0M747.4 542.3h-3.0M457 534.9h5.9M747.4 534.9h-5.9M457 527.5h3.0M747.4 527.5h-3.0M457 520.1h3.0M747.4 520.1h-3.0M457 512.7h3.0M747.4 512.7h-3.0M457 505.2h3.0M747.4 505.2h-3.0M457 497.8h5.9M747.4 497.8h-5.9M457 490.4h3.0M747.4 490.4h-3.0M457 483h3.0M747.4 483h-3.0M457 475.6h3.0M747.4 475.6h-3.0M457 468.2h3.0M747.4 468.2h-3.0M457 460.8h5.9M747.4 460.8h-5.9M457 453.3h3.0M747.4 453.3h-3.0M457 445.9h3.0M747.4 445.9h-3.0M457 438.5h3.0M747.4 438.5h-3.0M457 431.1h3.0M747.4 431.1h-3.0M457 423.7h5.9M747.4 423.7h-5.9M457 416.2h3.0M747.4 416.2h-3.0M457 408.8h3.0M747.4 408.8h-3.0M457 401.4h3.0M747.4 401.4h-3.0M457 394h3.0M747.4 394h-3.0M457 386.6h5.9M747.4 386.6h-5.9M457 379.2h3.0M747.4 379.2h-3.0M457 371.8h3.0M747.4 371.8h-3.0M457 364.3h3.0M747.4 364.3h-3.0M457 356.9h3.0M747.4 356.9h-3.0" stroke="#000" stroke-width="1.0" fill="none"/>
<rect x="457" y="349.5" width="290.4" height="222.5" fill="none" stroke="#000" stroke-width="1.0"/>
<path d="M456.89 572.04C456.89 572.04 494.04 572.27 502.8 572.04C511.55 571.8 514.72 571.49 522.67 570.95C530.63 570.42 534.38 570.08 540.75 569.51C547.11 568.93 548.85 568.77 555.2 568.06C561.56 567.35 564.88 566.91 569.66 566.25C574.44 565.6 575.75 565.46 580.51 564.63C585.26 563.8 588.15 563.18 591.35 562.46C594.55 561.74 598.39 560.67 598.58 560.65C598.76 560.63 598.82 560.69 599 560.65C599.18 560.61 602.1 558.94 604.42 558.3C606.74 557.66 608.61 557.5 609.84 557.58C611.08 557.66 611.33 558.17 612.55 558.3C613.78 558.44 615.08 558.06 617.07 558.12C619.06 558.18 622.3 558.86 624.3 558.84C626.3 558.82 626.82 558.22 628.82 558.3C630.82 558.38 632.35 559.06 635.14 559.57C637.94 560.07 640.19 560.45 644.18 561.01C648.17 561.57 654.31 562.27 662.25 563.18C670.2 564.09 672.38 564.33 680.33 565.17C688.27 566 690.45 566.22 698.4 566.98C706.35 567.73 708.52 567.93 716.47 568.6C724.42 569.28 728.96 569.47 734.54 570.05C740.12 570.63 747.19 571.67 747.19 571.67" stroke="#ff0f20" stroke-width="1.2" fill="none" stroke-linejoin="round" stroke-linecap="round"/>
<path d="M456.9 572H502.8" stroke="#ff0f20" stroke-width="1.7" fill="none"/>
<path d="M456.89 572.04C456.89 572.04 479.61 572.47 485.63 572.04C491.64 571.6 493.56 571.14 499.18 570.05C504.8 568.96 507.78 568.19 511.83 566.98C515.88 565.76 517.6 565.12 520.87 563.72C524.14 562.32 525.62 561.55 528.1 560.11C530.58 558.67 531.34 558.28 533.52 556.49C535.69 554.71 536.18 553.51 538.04 551.98C539.89 550.44 540.65 549.96 542.55 548.9C544.45 547.85 545.53 547.4 547.07 546.92C548.62 546.43 549.43 546.11 550.69 546.19C551.94 546.27 552.15 546.96 553.4 547.1C554.65 547.24 557.16 546.96 558.82 546.55C560.48 546.15 560.78 545.56 562.43 545.11C564.08 544.65 565.04 545.03 566.95 544.39C568.86 543.74 569.8 542.33 572.37 541.49C574.94 540.65 576.27 541.13 578.7 540.59C581.13 540.05 581.69 539.51 584.12 538.96C586.55 538.42 588.9 538.47 591.35 537.88C593.79 537.29 595.21 536.41 596.77 536.07C598.33 535.74 599.36 535.96 600.39 535.71C601.41 535.46 602.61 534.81 602.61 534.81C602.61 534.81 603.54 535.56 604.42 535.71C605.3 535.86 605.93 535.24 607.13 535.35C608.33 535.46 608.62 535.95 609.84 536.25C611.06 536.56 614.69 537.11 617.07 537.52C619.46 537.93 620.08 538.22 622.49 538.42C624.9 538.62 626.72 538.02 628.82 538.42C630.92 538.83 632.04 539.51 633.34 540.23C634.63 540.95 636.05 542.22 636.05 542.22C636.05 542.22 637.54 541.72 638.76 541.49C639.97 541.27 640.78 541.12 642.37 541.13C643.97 541.15 648.47 541.69 653.22 542.4C657.97 543.11 659.3 543.47 664.06 544.39C668.82 545.3 670.16 545.49 674.9 546.55C679.65 547.62 683.02 548.5 689.36 550.17C695.7 551.83 697.47 552.36 703.82 554.14C710.17 555.93 711.94 556.4 718.28 558.3C724.62 560.2 727.95 561.27 732.73 562.82C737.52 564.36 741.97 565.84 743.58 566.43C745.19 567.02 747.19 567.88 747.19 567.88" stroke="#ff8418" stroke-width="1.2" fill="none" stroke-linejoin="round" stroke-linecap="round"/>
<path d="M456.9 572H485.6" stroke="#ff8418" stroke-width="1.7" fill="none"/>
<path d="M456.89 572.04C456.89 572.04 467.8 572.97 472.07 572.04C476.35 571.1 477.85 569.56 481.11 567.88C484.37 566.2 486.55 565.09 488.34 563.72C490.12 562.36 490.57 561.88 491.95 560.11C493.34 558.34 493.66 557.68 494.66 555.59C495.67 553.5 496.25 551.17 497.37 548.36C498.5 545.55 499.07 543.89 500.08 542.04C501.1 540.18 501.42 539.5 502.8 538.06C504.17 536.62 504.93 535.97 506.41 535.35C507.89 534.73 508.54 535.43 510.02 534.81C511.51 534.19 512.49 533.72 513.64 532.1C514.79 530.48 515.08 527.58 515.08 527.58L516.35 528.84L517.61 526.31L519.06 530.29L520.51 523.96C520.51 523.96 522.83 522.16 523.58 521.8C524.32 521.43 524.69 521.7 525.39 521.25C526.08 520.8 526.65 519.81 526.65 519.81L527.73 521.25L529 519.08L530.27 519.99L532.07 516.73L533.16 519.08C533.16 519.08 534.3 518.14 535.33 517.64C536.36 517.13 538.39 516.7 540.75 515.83C543.11 514.97 544.44 514.64 546.17 513.66C547.9 512.69 548.85 511.61 549.78 510.95C550.72 510.29 551.95 509.51 551.95 509.51C551.95 509.51 552.67 507 553.04 504.99C553.4 502.98 553.76 499.2 553.76 499.2L555.57 500.47L557.92 498.12C557.92 498.12 559.48 498.27 560.63 498.66C561.78 499.06 562.48 500.21 564.24 500.47C566 500.73 567.41 500.46 569.66 499.57C571.91 498.68 572.68 497.51 575.08 495.95C577.49 494.4 579.04 493.27 582.31 491.43C585.58 489.6 588.14 488.6 591.35 486.92C594.56 485.23 596.69 483.84 598.58 482.94C600.47 482.04 600.9 481.35 602.98 481.13C605.06 480.92 606.8 481.94 609.84 482.4C612.88 482.85 615.92 483.15 620.69 483.66C625.45 484.18 628.35 484.63 631.53 484.75C634.71 484.87 636.34 484.36 638.76 484.57C641.18 484.78 642.71 485.22 644.18 485.65C645.65 486.08 645.9 486.77 647.43 486.92C648.96 487.06 649.63 486.25 651.41 486.19C653.19 486.13 655 486.3 657.73 486.92C660.47 487.53 661.64 488.15 664.06 489.08C666.48 490.02 667.13 490.54 669.48 491.43C671.83 492.33 673.34 492.91 674.9 493.24C676.47 493.58 677.17 493.12 678.52 493.6C679.87 494.09 681.23 495.41 681.23 495.41C681.23 495.41 682.78 494.57 683.94 494.14C685.1 493.72 686.65 493.42 686.65 493.42L689.36 495.95L692.07 495.23C692.07 495.23 693.23 496 693.88 496.86C694.53 497.71 696.59 502.28 696.59 502.28C696.59 502.28 697.5 502.4 698.04 502.82C698.57 503.24 700.89 507.12 702.01 508.6C703.14 510.09 703.72 510.28 704.72 511.86C705.72 513.43 707.43 517.64 707.43 517.64C707.43 517.64 708.47 518.28 709.24 518.54C710.01 518.81 711.05 518.9 711.05 518.9C711.05 518.9 711.43 521.44 712.49 523.06C713.56 524.68 714.72 525.09 716.47 526.67C718.22 528.26 721.89 531.55 721.89 531.55L723.7 531.19C723.7 531.19 724.54 532.85 725.51 533.9C726.47 534.96 727.15 534.98 728.22 536.07C729.28 537.17 730.83 539.35 732.73 542.04C734.64 544.72 735.77 546.59 738.16 550.17C740.54 553.75 741.99 555.92 743.58 558.3C745.17 560.69 747.19 563.72 747.19 563.72" stroke="#14f814" stroke-width="1.2" fill="none" stroke-linejoin="round" stroke-linecap="round"/>
<path d="M456.9 572H472.1" stroke="#14f814" stroke-width="1.7" fill="none"/>
<path d="M456.89 572.04L465.75 572.04C465.75 572.04 468.93 568.51 471.17 565.53C473.41 562.55 474.71 561.3 476.05 558.3C477.38 555.31 477.26 554.3 477.86 551.07C478.45 547.85 478.51 544.47 479.3 539.33C480.09 534.18 480.37 531.66 481.47 527.58C482.57 523.5 483.06 522.43 484.72 518.54C486.39 514.66 487.08 513.23 489.24 509.51C491.4 505.79 492.09 504.73 494.66 501.37C497.23 498.02 500.99 494.14 500.99 494.14L501.57 494.7C501.57 494.7 505.59 489.83 508.19 486.87C510.79 483.91 512.15 482.41 514.22 480.24C516.29 478.07 519.04 475.42 519.04 475.42L520.24 475.78C520.24 475.78 521.07 474.09 522.05 473.01C523.03 471.93 524.52 470.74 526.27 469.64C528.01 468.54 528.8 468.79 530.48 467.59C532.16 466.39 534.25 463.94 537.11 460.96C539.97 457.99 541.89 456.36 544.34 453.13C546.78 449.91 547.19 448.84 549.16 445.3C551.12 441.77 551.76 439.86 553.98 435.66C556.19 431.47 558.48 427.67 560 424.82C561.52 421.97 562.09 421.26 563.34 418.29C564.59 415.31 565.42 412.24 566.95 407.45C568.49 402.66 569.9 397.35 570.57 395.7C571.23 394.05 572.37 392.08 572.37 392.08C572.37 392.08 573.94 391.46 575.08 390.82C576.23 390.17 577 389.88 577.8 389.01C578.59 388.14 579.06 386.66 579.06 386.66L580.51 388.47L582.67 386.12C582.67 386.12 583.41 388.93 583.76 391.18C584.11 393.43 584.48 398.77 584.48 398.77C584.48 398.77 585.17 389.98 585.57 387.57C585.96 385.15 586.28 383.26 586.83 382.14C587.38 381.03 588.64 379.98 588.64 379.98C588.64 379.98 589.05 385.26 589.54 388.47C590.03 391.68 590.35 394.45 590.99 395.7C591.63 396.95 593.16 398.05 593.16 398.05C593.16 398.05 594.76 398.02 595.87 397.51C596.97 396.99 598.58 395.34 598.58 395.34L601.29 396.24L599 395.34C599 395.34 601.61 395.26 603.52 395.88C605.42 396.5 606.15 397.14 608.04 398.41C609.93 399.68 610.6 400.54 612.55 402.02C614.51 403.51 615.09 403.84 617.07 405.28C619.05 406.72 620.14 407.61 622.49 409.25C624.84 410.9 626.53 411.62 627.92 412.87C629.3 414.11 629.32 414.8 630.63 416.12C631.94 417.44 634.24 419.19 634.24 419.19L636.05 418.83C636.05 418.83 637.4 420.72 638.76 421.9C640.12 423.09 641.77 423.96 644.18 425.52C646.59 427.07 648.89 428.22 651.41 430.04C653.92 431.86 654.82 432.83 656.83 434.55C658.84 436.28 659.84 437.38 661.35 438.53C662.86 439.68 663.49 439.69 664.96 440.88C666.44 442.07 667.5 443.74 668.58 444.49C669.66 445.25 670.17 445.06 671.29 445.76C672.41 446.45 673.49 447.18 674.9 448.65C676.32 450.12 676.78 451.86 678.52 453.53C680.25 455.2 681.17 455.09 683.04 456.6C684.9 458.12 687.55 460.94 687.55 460.94L687.55 461.25C687.55 461.25 689.75 462.79 691.17 464.33C692.59 465.86 695.24 469.88 698.4 474.27C701.56 478.65 703.71 481.18 707.43 486.92C711.16 492.65 712.73 495.39 716.47 502.28C720.21 509.17 722.08 512.9 725.51 520.35C728.93 527.8 730.81 533.12 732.73 537.52C734.66 541.92 736.08 544.91 737.25 547.46C738.43 550.01 739.96 553.24 739.96 553.24" stroke="#1818ff" stroke-width="1.2" fill="none" stroke-linejoin="round" stroke-linecap="round"/>
<path d="M456.9 572H465.7" stroke="#1818ff" stroke-width="1.7" fill="none"/>
<path d="M456.89 572.04L463.94 572.04C463.94 572.04 466.06 568.45 467.55 565.53C469.04 562.61 470.38 560.73 471.53 557.04C472.68 553.34 472.49 552.2 472.98 548.36C473.46 544.52 473.6 539.49 474.24 533.9C474.88 528.32 475.16 526.45 476.05 521.25C476.94 516.06 477.68 512.7 478.4 509.51C479.12 506.31 479.14 505.38 480.2 502.28C481.27 499.18 483.82 494.14 483.82 494.14L484.1 494.7C484.1 494.7 487.67 487.01 490.12 482.65C492.57 478.29 493.61 476.8 496.14 473.01C498.68 469.22 499.58 468.07 502.17 464.58C504.76 461.09 506.65 458.64 508.19 456.75C509.73 454.85 510.15 454.32 511.81 452.53C513.47 450.74 514.87 449.26 516.63 447.71C518.39 446.16 519.3 446.22 520.84 444.46C522.39 442.7 522.6 441.6 523.86 439.28C525.11 436.96 526.24 434.9 527.47 432.05C528.7 429.2 529.05 427.8 529.88 425.42C530.71 423.05 530.92 422.4 531.69 420C532.45 417.6 533.17 414.98 534.42 411.06C535.67 407.14 536.71 405.07 538.04 400.22C539.36 395.37 539.72 392.72 540.75 387.57C541.77 382.41 542.34 378.62 542.92 375.82C543.49 373.02 544.36 369.49 544.36 369.49L545.81 371.3L547.61 366.24C547.61 366.24 548.67 368.79 549.42 370.4C550.17 372.01 551.23 374.01 551.23 374.01C551.23 374.01 552.51 370.61 553.4 368.59C554.28 366.57 555.57 364.07 555.57 364.07C555.57 364.07 556.81 364.9 557.37 365.88C557.93 366.86 559.72 374.92 559.72 374.92C559.72 374.92 561.11 373.52 562.43 372.75C563.75 371.98 564.62 372.24 566.05 371.3C567.48 370.36 569.31 367.44 571.47 365.88C573.63 364.32 576.06 363.67 576.89 363.17C577.73 362.67 577.95 362.27 578.7 361.9C579.45 361.54 579.75 361.71 580.51 361.36C581.26 361.01 584.73 358.54 585.93 357.75C587.12 356.95 587.72 357.04 588.64 355.94C589.56 354.84 590.45 351.78 590.45 351.78C590.45 351.78 591.61 352.2 592.25 352.87C592.89 353.54 594.6 357.2 594.6 357.2C594.6 357.2 596.42 355.58 597.67 354.13C598.93 352.69 600.2 350.76 600.39 350.52C600.57 350.28 600.81 349.98 600.81 349.98C600.81 349.98 602 351.17 602.61 352.33C603.23 353.48 603.53 355.4 604.42 357.75C605.32 360.1 606.48 363.01 607.13 364.07C607.78 365.13 607.98 365.46 608.94 366.24C609.9 367.02 610.56 366.88 611.65 367.69C612.74 368.49 613.32 369.07 614.36 370.4C615.4 371.73 616.53 374.01 616.53 374.01L617.98 368.59" stroke="#5e1696" stroke-width="1.2" fill="none" stroke-linejoin="round" stroke-linecap="round"/>
<path d="M456.9 572H463.9" stroke="#5e1696" stroke-width="1.7" fill="none"/>
<text x="457.2" y="590.3" font-size="12.7" text-anchor="middle" letter-spacing="0.3">0</text>
<text x="529.8" y="590.3" font-size="12.7" text-anchor="middle" letter-spacing="0.3">5</text>
<text x="602.4" y="590.3" font-size="12.7" text-anchor="middle" letter-spacing="0.3">10</text>
<text x="675" y="590.3" font-size="12.7" text-anchor="middle" letter-spacing="0.3">15</text>
<text x="747.6" y="590.3" font-size="12.7" text-anchor="middle" letter-spacing="0.3">20</text>
<text x="602.1" y="605" font-size="12.2" text-anchor="middle" letter-spacing="0.6" word-spacing="2.2">Time (s)</text>
<text transform="translate(452.6 572.7) scale(1.07 1)" font-size="12.7" text-anchor="end" letter-spacing="0.2">0</text>
<text transform="translate(452.6 539.9) scale(1.07 1)" font-size="12.7" text-anchor="end" letter-spacing="0.2">1000</text>
<text transform="translate(452.6 502.8) scale(1.07 1)" font-size="12.7" text-anchor="end" letter-spacing="0.2">2000</text>
<text transform="translate(452.6 465.8) scale(1.07 1)" font-size="12.7" text-anchor="end" letter-spacing="0.2">3000</text>
<text transform="translate(452.6 428.7) scale(1.07 1)" font-size="12.7" text-anchor="end" letter-spacing="0.2">4000</text>
<text transform="translate(452.6 391.6) scale(1.07 1)" font-size="12.7" text-anchor="end" letter-spacing="0.2">5000</text>
<text transform="translate(452.6 358.2) scale(1.07 1)" font-size="12.7" text-anchor="end" letter-spacing="0.2">6000</text>
<g transform="translate(411.8 460.8)" fill="none" stroke="#000" stroke-width="1.05" stroke-linejoin="round"><path d="M0 5.9V12.8L-8.7 9.35ZM0 4.4H-8.8M2.6 2.1L-10.6 -5.15M0 -7.3H-8.8"/><ellipse cx="-0.6" cy="-10.7" rx="2.1" ry="1.4"/></g>
<text x="473" y="371.8" font-size="12.2" textLength="66.3" lengthAdjust="spacingAndGlyphs">PENUMBRA</text>
<text x="473.1" y="383.5" font-size="12.2">δ</text>
<text transform="translate(480.9 383.5) scale(1.22 1)" font-size="12.2">=</text>
<text x="490.8" y="383.5" font-size="12.2">5</text>
</g>
</svg>
</body></html>
